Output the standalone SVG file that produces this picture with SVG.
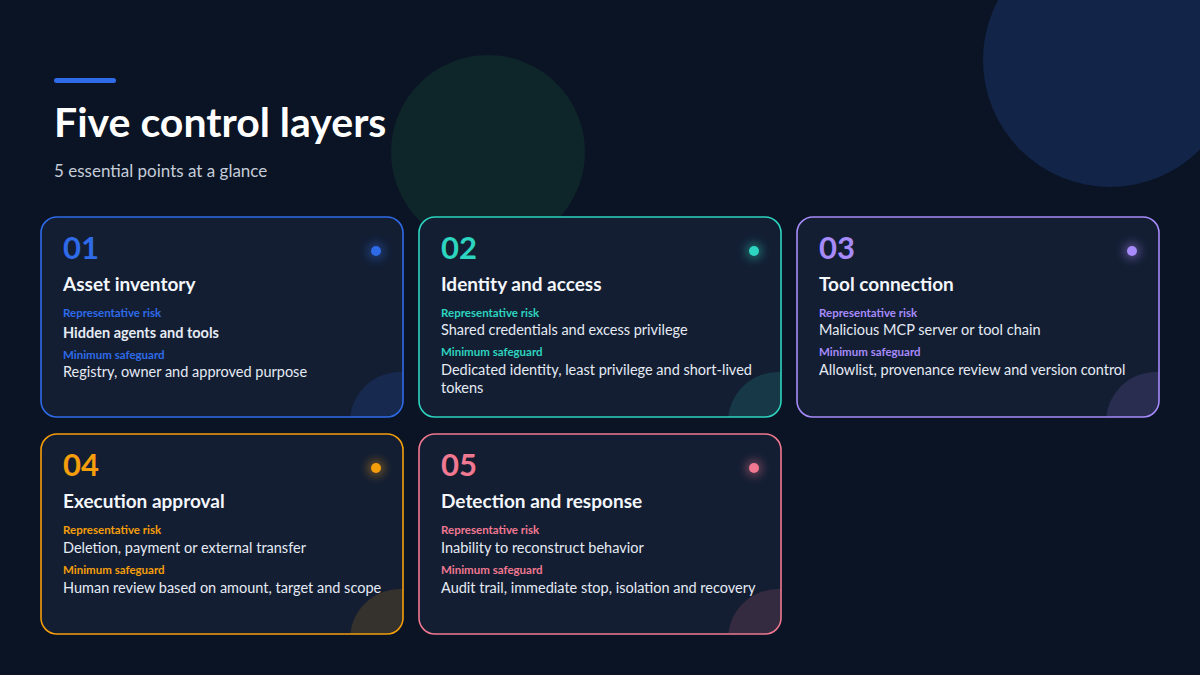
<svg xmlns="http://www.w3.org/2000/svg" width="1200" height="675" viewBox="0 0 1200 675">
<defs>
<style>
text{font-family:Lato,"Noto Sans",sans-serif}
.num{font-size:31px;font-weight:700}
.ttl{font-size:19px;font-weight:700;fill:#f3f6fb}
.lbl{font-size:11.5px;font-weight:700}
.val{font-size:14.5px;fill:#e6ebf3}
.card{fill:#131e33;stroke-width:1.6}
</style>
<filter id="glow" x="-3" y="-3" width="7" height="7"><feGaussianBlur stdDeviation="4"/></filter>
<clipPath id="c1"><rect x="41" y="217" width="362" height="200" rx="16"/></clipPath>
<clipPath id="c2"><rect x="419" y="217" width="362" height="200" rx="16"/></clipPath>
<clipPath id="c3"><rect x="797" y="217" width="362" height="200" rx="16"/></clipPath>
<clipPath id="c4"><rect x="41" y="434" width="362" height="200" rx="16"/></clipPath>
<clipPath id="c5"><rect x="419" y="434" width="362" height="200" rx="16"/></clipPath>
</defs>
<rect width="1200" height="675" fill="#0b1424"/>
<circle cx="1110" cy="60" r="127" fill="#13264d" opacity="0.9"/>
<circle cx="488" cy="152" r="97" fill="#10302f" opacity="0.6"/>
<rect x="54" y="78" width="62" height="5" rx="2.5" fill="#2f6be8"/>
<text x="54" y="137" font-size="41" font-weight="700" fill="#ffffff">Five control layers</text>
<text x="54" y="177" font-size="17" fill="#c5cdd9">5 essential points at a glance</text>

<g id="card1">
<rect class="card" x="41" y="217" width="362" height="200" rx="16" stroke="#2f6be8"/>
<circle cx="400" cy="422" r="50" fill="#2f6be8" opacity="0.15" clip-path="url(#c1)"/>
<circle cx="376" cy="251" r="9" fill="#2f6be8" opacity="0.35" filter="url(#glow)"/>
<circle cx="376" cy="251" r="5" fill="#2f6be8"/>
<text class="num" x="63" y="259" fill="#2f6be8">01</text>
<text class="ttl" x="63" y="291">Asset inventory</text>
<text class="lbl" x="63" y="317" fill="#2f6be8">Representative risk</text>
<text class="val" x="63" y="338" font-size="17" font-weight="700">Hidden agents and tools</text>
<text class="lbl" x="63" y="359" fill="#2f6be8">Minimum safeguard</text>
<text class="val" x="63" y="377">Registry, owner and approved purpose</text>
</g>
<g id="card2">
<rect class="card" x="419" y="217" width="362" height="200" rx="16" stroke="#2dd4bf"/>
<circle cx="778" cy="422" r="50" fill="#2dd4bf" opacity="0.15" clip-path="url(#c2)"/>
<circle cx="754" cy="251" r="9" fill="#2dd4bf" opacity="0.35" filter="url(#glow)"/>
<circle cx="754" cy="251" r="5" fill="#2dd4bf"/>
<text class="num" x="441" y="259" fill="#2dd4bf">02</text>
<text class="ttl" x="441" y="291">Identity and access</text>
<text class="lbl" x="441" y="317" fill="#2dd4bf">Representative risk</text>
<text class="val" x="441" y="335">Shared credentials and excess privilege</text>
<text class="lbl" x="441" y="356" fill="#2dd4bf">Minimum safeguard</text>
<text class="val" x="441" y="375">Dedicated identity, least privilege and short-lived</text>
<text class="val" x="441" y="393">tokens</text>
</g>
<g id="card3">
<rect class="card" x="797" y="217" width="362" height="200" rx="16" stroke="#a78bfa"/>
<circle cx="1156" cy="422" r="50" fill="#a78bfa" opacity="0.15" clip-path="url(#c3)"/>
<circle cx="1132" cy="251" r="9" fill="#a78bfa" opacity="0.35" filter="url(#glow)"/>
<circle cx="1132" cy="251" r="5" fill="#a78bfa"/>
<text class="num" x="819" y="259" fill="#a78bfa">03</text>
<text class="ttl" x="819" y="291">Tool connection</text>
<text class="lbl" x="819" y="317" fill="#a78bfa">Representative risk</text>
<text class="val" x="819" y="335">Malicious MCP server or tool chain</text>
<text class="lbl" x="819" y="356" fill="#a78bfa">Minimum safeguard</text>
<text class="val" x="819" y="375">Allowlist, provenance review and version control</text>
</g>
<g id="card4">
<rect class="card" x="41" y="434" width="362" height="200" rx="16" stroke="#f59e0b"/>
<circle cx="400" cy="639" r="50" fill="#f59e0b" opacity="0.15" clip-path="url(#c4)"/>
<circle cx="376" cy="468" r="9" fill="#f59e0b" opacity="0.35" filter="url(#glow)"/>
<circle cx="376" cy="468" r="5" fill="#f59e0b"/>
<text class="num" x="63" y="476" fill="#f59e0b">04</text>
<text class="ttl" x="63" y="508">Execution approval</text>
<text class="lbl" x="63" y="534" fill="#f59e0b">Representative risk</text>
<text class="val" x="63" y="553">Deletion, payment or external transfer</text>
<text class="lbl" x="63" y="574" fill="#f59e0b">Minimum safeguard</text>
<text class="val" x="63" y="593">Human review based on amount, target and scope</text>
</g>
<g id="card5">
<rect class="card" x="419" y="434" width="362" height="200" rx="16" stroke="#f07890"/>
<circle cx="778" cy="639" r="50" fill="#f07890" opacity="0.15" clip-path="url(#c5)"/>
<circle cx="754" cy="468" r="9" fill="#f07890" opacity="0.35" filter="url(#glow)"/>
<circle cx="754" cy="468" r="5" fill="#f07890"/>
<text class="num" x="441" y="476" fill="#f07890">05</text>
<text class="ttl" x="441" y="508">Detection and response</text>
<text class="lbl" x="441" y="534" fill="#f07890">Representative risk</text>
<text class="val" x="441" y="553">Inability to reconstruct behavior</text>
<text class="lbl" x="441" y="574" fill="#f07890">Minimum safeguard</text>
<text class="val" x="441" y="593">Audit trail, immediate stop, isolation and recovery</text>
</g>
<g id="connectors"/>
</svg>
